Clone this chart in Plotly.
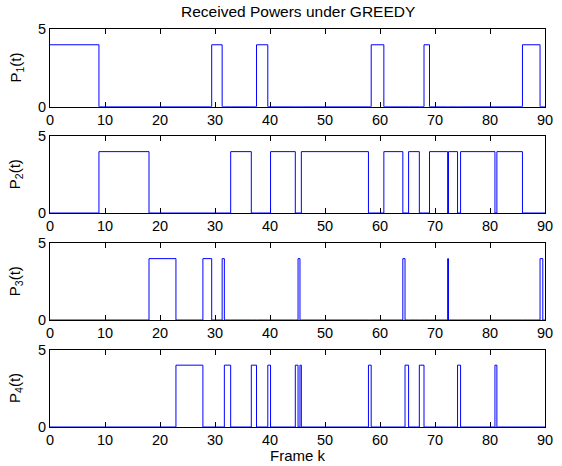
import plotly.graph_objects as go

# Switching instants (frame k) and the user that is received at full power in each interval
switch_times = [0, 8.9, 18.0, 22.9, 27.8, 29.4, 31.3, 31.7, 32.85, 36.6, 37.55, 39.6,
                40.1, 44.6, 45.1, 45.45, 45.7, 57.9, 58.4, 60.7, 64.15, 64.55, 65.2,
                67.15, 68.0, 69.0, 72.3, 72.45, 74.1, 74.65, 80.9, 81.25, 85.9, 89.1,
                89.6, 90]
active_user = [1, 2, 3, 4, 3, 1, 3, 4, 2, 4, 1, 4, 2, 4, 3, 4, 2, 4, 1, 2, 3, 4, 2,
               4, 1, 2, 3, 2, 4, 2, 4, 2, 1, 3, 0]
power_on = 4
users = [1, 2, 3, 4]
ylabels = ["P<sub>1</sub>(t)", "P<sub>2</sub>(t)", "P<sub>3</sub>(t)", "P<sub>4</sub>(t)"]
xticks = [0, 10, 20, 30, 40, 50, 60, 70, 80, 90]
yticks = [0, 5]
title_text = "Received Powers under GREEDY"
xlabel_text = "Frame k"

W, H = 562, 466
ml, mr, mt, mb = 50, 9, 29, 39
ph = H - mt - mb
tops = [29.3, 136.3, 243.3, 349.7]
bots = [106.7, 213.0, 320.0, 427.0]

fig = go.Figure()
fam = "Liberation Sans, Arial, Helvetica, sans-serif"
font = dict(family=fam, size=14.5, color="black")
lab_font = dict(family=fam, size=15, color="black")
title_font = dict(family=fam, size=15.5, color="black")

for i, u in enumerate(users):
    yvals = [power_on if a == u else 0 for a in active_user]
    yvals = yvals + [yvals[-1]]
    xa = "x" if i == 0 else f"x{i+1}"
    ya = "y" if i == 0 else f"y{i+1}"
    fig.add_trace(go.Scatter(x=switch_times, y=yvals, mode="lines", line_shape="hv",
                             line=dict(color="#0000ff", width=1), xaxis=xa, yaxis=ya,
                             showlegend=False, hoverinfo="skip"))
    d0 = (H - mb - bots[i]) / ph
    d1 = (H - mb - tops[i]) / ph
    axkey = "xaxis" if i == 0 else f"xaxis{i+1}"
    aykey = "yaxis" if i == 0 else f"yaxis{i+1}"
    fig.update_layout(**{
        axkey: dict(domain=[0, 1], anchor=ya, range=[0, 90], tickvals=xticks,
                    ticks="inside", ticklen=5, tickwidth=1, tickcolor="black",
                    showline=True, linecolor="black", linewidth=1, mirror="allticks",
                    showgrid=False, zeroline=False, tickfont=font, layer="below traces"),
        aykey: dict(domain=[d0, d1], anchor=xa, range=[0, 5], tickvals=yticks,
                    ticks="", showline=True, linecolor="black", linewidth=1, mirror=True,
                    showgrid=False, zeroline=False, tickfont=font, layer="below traces"),
    })
    fig.add_annotation(text=ylabels[i], textangle=-90, xref="paper", yref="paper",
                       x=-0.0696, y=(d0 + d1) / 2, xanchor="center", yanchor="middle",
                       showarrow=False, font=lab_font)

fig.add_annotation(text=title_text, xref="paper", yref="paper", x=0.5, y=1,
                   yanchor="bottom", yshift=7, showarrow=False, font=title_font)
fig.add_annotation(text=xlabel_text, xref="paper", yref="paper", x=0.5, y=0,
                   yanchor="top", yshift=-18, showarrow=False, font=lab_font)

fig.update_layout(width=W, height=H, margin=dict(l=ml, r=mr, t=mt, b=mb),
                  plot_bgcolor="white", paper_bgcolor="white", font=font)
fig.write_html("out.html")
